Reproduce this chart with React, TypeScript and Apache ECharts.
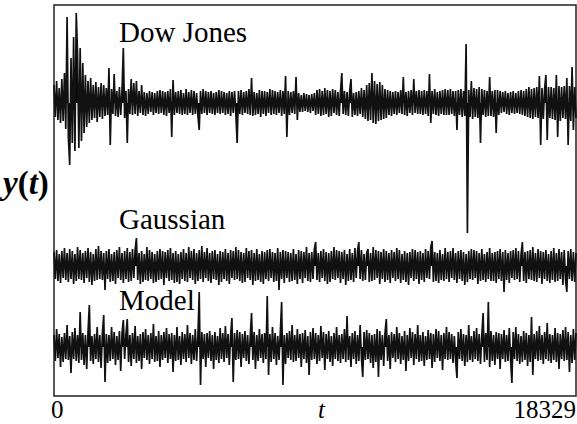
import React, { useEffect, useRef } from "react";
import * as echarts from "echarts";

const T_MAX = 18329;

// Displacements (plot units, positive = up), left to right
const dowJones = [
  18, -14, 22, -17, 15, -20, 24, -18, 30, -26, 86, -35, -62, 45, -40, 66, -48, 90, 50, -45,
  55, -38, 40, -30, 28, -24, 22, -20, 25, -17, 18, -15, 21, -19, 16, -14, 20, -16, 18, -13,
  15, -12, 35, -42, 14, -11, 29, -13, 12, -14, 16, -12, 13, 55, -15, 12, -40, 14, -11, 24,
  -12, 20, -11, 22, -13, 12, -10, 18, -12, 11, -13, 10, -11, 12, -9, 11, -12, 10, -10, 12,
  -11, 13, -10, 12, -12, 11, -13, 12, -10, 14, -34, 23, -12, 11, -10, 12, -11, 13, -12, 10,
  -11, 14, -12, 11, -10, 13, -12, 12, -11, 10, -13, -27, 12, -11, 14, -10, 12, -12, 11, -10,
  12, -11, 10, -12, 11, -10, 13, -11, 12, -10, 11, -12, 10, -11, 12, -13, 11, -10, 12, -11,
  -40, 12, -11, 13, -12, 11, -10, 12, -11, 14, -12, 25, -13, 11, -12, 10, -11, 13, -14, 12,
  -11, 12, -13, 11, -10, 14, -12, 13, -11, 12, -12, 11, -10, 13, -13, 12, -11, 27, -34, 12,
  -12, 11, -10, 12, -11, 26, -17, 10, -9, 8, -9, 10, -8, 9, -9, 8, -10, 9, -8, 10,
  -12, 13, -11, 14, -13, 12, -12, 15, -11, 13, -14, 12, -13, 14, -10, 13, -12, 11, -13, 12,
  30, -11, 12, -12, 11, -13, 12, 24, -14, 10, -12, 11, -13, 12, -11, 15, -14, 13, -16, 18,
  -18, 20, -17, 30, -20, 22, -21, 19, -18, 21, -17, 18, -16, 14, -15, 13, -12, 12, -13, 11,
  -11, 12, -12, 11, -10, 13, -11, 26, -12, 11, -13, 12, -10, 13, -12, 24, -10, 12, -11, 13,
  -11, 12, -12, 13, -11, 12, -13, 29, -20, 12, -11, 14, -12, 11, -13, 12, -11, 13, -12, 14,
  -12, 13, -12, 14, -11, 12, -13, 12, -27, 13, -12, 14, -14, 12, -13, 59, -130, 13, -14, 22,
  -16, 15, -14, 14, -15, 16, -40, 14, -12, 13, -14, 12, -13, 26, -13, 12, -14, 13, -30, 13,
  -12, 12, -10, 11, -9, 12, -11, 10, -12, 11, -10, 12, -11, 10, -10, 12, -11, 13, -12, 12,
  -13, 14, -14, 16, -15, 14, -16, 15, -14, 16, -15, 27, -42, 15, -16, 14, 28, -37, 16, -15,
  16, -16, 15, -17, 28, -34, 17, -18, 16, -15, 17, -16, 25, -42, 17, -18, 36, -27, 16, -15,
];

const gaussian = [
  14, -13, 16, -15, 12, -17, 15, -12, 18, -14, 13, -16, 17, -13, 15, -18, 12, -15, 19, -13,
  16, -14, 13, -17, 15, -12, 18, -16, 14, -19, 12, -15, 17, -14, 20, -13, 15, -14, 13, -24,
  15, -13, 17, -16, 12, -15, 14, -18, 16, -12, 19, -14, 13, -17, 15, -13, 18, -16, 14, -15,
  17, -12, 16, 28, -14, 13, -18, 15, -16, 12, -14, 19, -15, 16, -13, 14, -17, 12, -16, 15,
  -14, 17, -13, 15, -19, 14, -12, 16, -15, 18, -14, 13, -17, 15, -16, 12, -18, 14, -13, 17,
  -15, 13, -16, 19, -12, 15, -14, 17, -18, 13, -15, 16, -13, 20, -16, 14, -12, 18, -15, 13,
  -17, 15, -13, 16, -14, 12, -19, 15, -16, 14, -13, 17, -15, 13, -18, 16, -12, 15, -14, 19,
  -13, 16, -15, 14, -17, 13, -16, 18, -12, 15, -14, 16, -19, 13, -15, 17, -14, 12, -16, 15,
  -18, 14, -13, 16, -15, 17, -12, 14, -16, 13, -15, 18, -24, 14, -13, 16, -17, 15, -12, 14,
  -16, 13, -15, 17, -14, 12, -18, 16, -13, 15, -17, 14, -12, 19, -15, 13, -16, 14, -13, 17,
  24, -14, 13, -16, 15, -12, 17, -15, 14, -18, 13, -16, 15, -13, 19, -14, 16, -12, 15, -17,
  14, -13, 16, -19, 12, -15, 17, -14, 13, -16, 18, -12, 15, 24, -13, 16, -15, 12, -14, 13,
  17, -16, 13, -15, 19, -14, 16, -12, 15, -18, 14, -13, 17, -16, 15, -14, 13, -17, 16, -12,
  14, -15, 18, -13, 16, -17, 12, -14, 15, -16, 13, -19, 14, -12, 17, -15, 16, -13, 14, -18,
  15, -14, 13, -16, 17, -12, 15, -13, 19, 25, -16, 14, -15, 13, -17, 16, -14, 12, -15, 18,
  -13, 14, -16, 15, -12, 18, -14, 13, -17, 15, -13, 16, -15, 14, -19, 12, -16, 15, -13, 17,
  -14, 16, -12, 15, -18, 13, -15, 17, -14, 12, -16, 14, -13, 18, -15, 13, -15, 14, -17, 15,
  -13, 17, -15, 14, -26, 16, -14, 13, -17, 15, -12, 16, -14, 18, -13, 15, -16, 12, 24, -15,
  14, -17, 15, -13, 16, -14, 19, -15, 13, -16, 17, -12, 15, -18, 14, -13, 16, -15, 12, -17,
  15, -14, 18, -16, 13, -15, 17, -13, 14, -19, 16, -14, -26, 15, -13, 17, -15, 14, -16, 13,
];

const model = [
  12, -14, 18, -11, 13, -20, 10, -15, 14, -12, 22, -13, 11, -26, 15, -12, 19, -14, 12, -16,
  35, -13, 14, -18, 12, -22, 15, 42, -14, 11, -17, 13, -12, 20, -15, 12, -21, 14, 32, -35,
  13, -16, 12, -14, 20, -12, 15, -18, 11, -13, 16, -24, 14, 27, -12, 13, 28, -15, 12, -19,
  14, -12, 21, -16, 11, -14, 13, -22, 15, -11, 18, -13, 12, -17, 14, -12, 23, -15, 11, -14,
  16, -20, 12, -13, 15, -11, 19, -16, 13, -12, 14, -25, 12, -14, 20, -13, 11, -18, 15, -12,
  13, -15, 22, -11, 14, -17, 12, -13, 18, -14, 11, 55, -38, 15, -12, 13, -20, 14, -11, 16,
  -14, 12, -22, 15, -13, 11, -16, 19, -12, 14, -15, 21, -11, 13, -18, 12, 29, -35, 14, -13,
  17, -12, 15, -20, 13, -11, 16, -14, 12, -17, 11, 34, -13, 15, -22, 12, -14, 18, -11, 13,
  -16, 14, -12, 51, -28, 13, -15, 20, -12, 14, -18, 11, -13, 15, 45, -38, 12, -17, 14, -11,
  16, -13, 22, -15, 12, -14, 18, -11, 13, -20, 14, -12, 17, -16, 11, -28, 15, -13, 19, -12,
  14, -17, 12, -14, 21, -11, 15, -23, 13, -12, 16, -15, 11, -19, 14, -12, 20, -14, 12, -16,
  13, -12, 18, -15, 31, -13, 11, -20, 14, -12, 16, -17, 12, -14, 22, -11, -30, 15, -13, 17,
  -12, 14, -16, 12, -21, 13, -15, 18, -30, 16, -13, 12, -19, 14, 28, -14, 12, -22, 15, -11,
  13, -15, 20, -12, 14, -17, 11, -13, 16, -24, 12, -14, 19, -11, 15, -18, 13, -12, 22, -15,
  12, -14, 15, -19, 11, -13, 17, -12, 14, -21, 13, -15, 18, -11, 16, -14, 12, -23, 14, -12,
  20, -13, 15, -12, 13, -16, 11, -14, -31, 15, -12, 18, -14, 13, -19, 12, -15, 22, -13, 11,
  -15, 16, -12, 19, -14, 13, -17, 12, 34, -15, 14, -13, 45, -20, 16, -14, 12, -18, 15, -12,
  14, -22, 13, -12, 17, -15, 12, -14, 19, -13, -36, 15, -12, 20, -14, 13, -17, 11, -15, 16,
  -13, 14, -19, 12, -15, 30, -28, 13, -12, 16, -14, 21, -13, 12, -17, 15, -12, 24, -14, 13,
  -16, 12, -13, 19, -15, 14, -22, 13, -12, 17, -14, 20, -13, 15, -25, 12, -16, 18, -13, 14,
];

const seriesNames = ["Dow Jones", "Gaussian", "Model"];
const xTickLabels = ["0", "18329"];

// vertical stacking offsets of the three traces (plot units)
const OFFSET_DOW = 293;
const OFFSET_GAUSS = 130;
const OFFSET_MODEL = 49;
const Y_MAX = 391;

const toSeries = (vals: number[], offset: number) =>
  vals.map((v, i) => [(i * T_MAX) / (vals.length - 1), offset + v]);

export default function App() {
  const ref = useRef<HTMLDivElement>(null);
  useEffect(() => {
    if (!ref.current) return;
    const chart = echarts.init(ref.current, null, { renderer: "svg" });
    const serif = "Liberation Serif";
    const lineSeries = (name: string, vals: number[], offset: number) => ({
      name,
      type: "line",
      data: toSeries(vals, offset),
      showSymbol: false,
      symbol: "none",
      silent: true,
      lineStyle: { color: "#111", width: 1.7, join: "miter", miterLimit: 2 },
      areaStyle: { color: "#000", opacity: 1, origin: offset },
    });
    const label = (text: string, left: number, top: number) => ({
      type: "text",
      left,
      top,
      z: 100,
      style: { text, fontSize: 29, fontFamily: serif, fill: "#000" },
    });
    chart.setOption({
      animation: false,
      backgroundColor: "#fff",
      grid: {
        left: 54,
        top: 5,
        right: 1,
        bottom: 28,
        show: true,
        borderColor: "#222",
        borderWidth: 1.5,
      },
      xAxis: {
        type: "value",
        min: 0,
        max: T_MAX,
        axisLine: { show: false },
        axisTick: { show: false },
        axisLabel: { show: false },
        splitLine: { show: false },
      },
      yAxis: {
        type: "value",
        min: 0,
        max: Y_MAX,
        axisLine: { show: false },
        axisTick: { show: false },
        axisLabel: { show: false },
        splitLine: { show: false },
      },
      series: [
        lineSeries(seriesNames[0], dowJones, OFFSET_DOW),
        lineSeries(seriesNames[1], gaussian, OFFSET_GAUSS),
        lineSeries(seriesNames[2], model, OFFSET_MODEL),
      ],
      graphic: [
        label(seriesNames[0], 119, 17),
        label(seriesNames[1], 119, 204),
        label(seriesNames[2], 119, 285),
        {
          type: "text",
          left: 51,
          top: 397,
          style: { text: xTickLabels[0], fontSize: 25, fontFamily: serif, fill: "#000" },
        },
        {
          type: "text",
          right: 1,
          top: 397,
          style: { text: xTickLabels[1], fontSize: 25, fontFamily: serif, fill: "#000" },
        },
        {
          type: "text",
          left: 318,
          top: 397,
          style: {
            text: "t",
            fontSize: 25,
            fontStyle: "italic",
            fontFamily: serif,
            fill: "#000",
          },
        },
        {
          type: "text",
          left: 3,
          top: 166,
          style: {
            text: "{i|y}{n|(}{i|t}{n|)}",
            rich: {
              i: {
                fontSize: 33,
                fontStyle: "italic",
                fontWeight: "bold",
                fontFamily: serif,
                fill: "#000",
              },
              n: { fontSize: 33, fontWeight: "bold", fontFamily: serif, fill: "#000" },
            },
          },
        },
      ],
    });
    return () => chart.dispose();
  }, []);
  return (
    <div
      ref={ref}
      style={{ position: "fixed", left: 0, top: 0, width: 577, height: 424 }}
    />
  );
}
